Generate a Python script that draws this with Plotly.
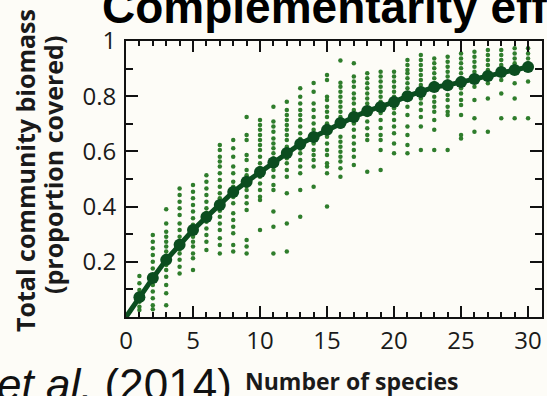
import plotly.graph_objects as go

# Number of species sown in each plot
species = list(range(0, 31))

# Mean proportion of ground covered at each species richness
mean_cover = [0.0, 0.072, 0.141, 0.207, 0.262, 0.315, 0.362, 0.406, 0.453, 0.490,
              0.525, 0.560, 0.594, 0.627, 0.652, 0.678, 0.703, 0.725, 0.746, 0.761,
              0.779, 0.800, 0.815, 0.833, 0.840, 0.851, 0.862, 0.873, 0.888, 0.895,
              0.906]

# Individual plot values, one list per species richness (1..30)
plot_cover = [
    [0.149, 0.122, 0.098, 0.072, 0.055, 0.037, 0.025],
    [0.297, 0.273, 0.249, 0.225, 0.200, 0.176, 0.152, 0.141, 0.116, 0.092, 0.068, 0.043, 0.028],
    [0.390, 0.339, 0.309, 0.291, 0.273, 0.255, 0.237, 0.222, 0.207, 0.188, 0.170, 0.146, 0.116, 0.086, 0.043],
    [0.466, 0.442, 0.418, 0.394, 0.370, 0.339, 0.315, 0.291, 0.275, 0.262, 0.245, 0.230, 0.207, 0.182, 0.158],
    [0.478, 0.454, 0.430, 0.406, 0.382, 0.358, 0.334, 0.315, 0.291, 0.273, 0.255, 0.230, 0.213, 0.170],
    [0.514, 0.490, 0.466, 0.442, 0.418, 0.394, 0.378, 0.362, 0.345, 0.321, 0.297, 0.273, 0.243],
    [0.623, 0.605, 0.581, 0.563, 0.545, 0.521, 0.496, 0.472, 0.448, 0.430, 0.406, 0.385, 0.363, 0.339,
     0.315, 0.285, 0.261, 0.230],
    [0.641, 0.611, 0.581, 0.545, 0.521, 0.490, 0.472, 0.453, 0.435, 0.412, 0.376, 0.351, 0.327, 0.303,
     0.261, 0.237],
    [0.725, 0.659, 0.641, 0.587, 0.569, 0.533, 0.514, 0.490, 0.475, 0.460, 0.436, 0.412, 0.388, 0.279,
     0.255, 0.230],
    [0.714, 0.696, 0.678, 0.659, 0.641, 0.623, 0.605, 0.581, 0.557, 0.540, 0.525, 0.508, 0.484, 0.460,
     0.436, 0.424, 0.315],
    [0.762, 0.708, 0.690, 0.671, 0.647, 0.629, 0.611, 0.593, 0.575, 0.560, 0.545, 0.533, 0.508, 0.478,
     0.460, 0.382, 0.327, 0.230],
    [0.780, 0.750, 0.732, 0.714, 0.696, 0.678, 0.659, 0.641, 0.617, 0.594, 0.575, 0.557, 0.533, 0.508,
     0.448, 0.339, 0.237],
    [0.829, 0.798, 0.774, 0.750, 0.732, 0.714, 0.690, 0.666, 0.645, 0.627, 0.610, 0.593, 0.569, 0.545,
     0.521, 0.460, 0.363],
    [0.848, 0.816, 0.774, 0.750, 0.725, 0.701, 0.678, 0.652, 0.629, 0.605, 0.587, 0.569, 0.545, 0.472],
    [0.877, 0.859, 0.798, 0.786, 0.762, 0.744, 0.725, 0.701, 0.678, 0.653, 0.629, 0.605, 0.587, 0.557,
     0.545, 0.521, 0.400],
    [0.929, 0.849, 0.834, 0.816, 0.798, 0.780, 0.762, 0.744, 0.725, 0.703, 0.690, 0.653, 0.635, 0.617,
     0.599, 0.581, 0.563, 0.539, 0.508],
    [0.919, 0.871, 0.853, 0.834, 0.810, 0.792, 0.774, 0.750, 0.725, 0.701, 0.678, 0.653, 0.629, 0.605,
     0.581, 0.551],
    [0.883, 0.865, 0.847, 0.829, 0.810, 0.792, 0.774, 0.756, 0.746, 0.732, 0.708, 0.684, 0.659, 0.641, 0.526],
    [0.889, 0.871, 0.853, 0.834, 0.816, 0.798, 0.780, 0.761, 0.739, 0.714, 0.685, 0.659, 0.641, 0.605, 0.533],
    [0.889, 0.871, 0.853, 0.834, 0.816, 0.798, 0.779, 0.756, 0.738, 0.714, 0.690, 0.666, 0.629, 0.593],
    [0.931, 0.913, 0.895, 0.883, 0.865, 0.847, 0.829, 0.810, 0.800, 0.786, 0.762, 0.732, 0.690, 0.659,
     0.623, 0.593],
    [0.949, 0.931, 0.913, 0.895, 0.877, 0.859, 0.841, 0.815, 0.792, 0.774, 0.750, 0.725, 0.690, 0.605],
    [0.937, 0.919, 0.901, 0.883, 0.865, 0.847, 0.833, 0.798, 0.780, 0.762, 0.744, 0.714, 0.678, 0.605],
    [0.943, 0.925, 0.907, 0.889, 0.871, 0.853, 0.840, 0.804, 0.786, 0.762, 0.744, 0.732, 0.605],
    [0.955, 0.937, 0.919, 0.901, 0.883, 0.865, 0.851, 0.829, 0.810, 0.786, 0.768, 0.732, 0.659, 0.647],
    [0.961, 0.943, 0.925, 0.907, 0.889, 0.862, 0.834, 0.786, 0.720, 0.671],
    [0.967, 0.949, 0.931, 0.913, 0.895, 0.873, 0.847, 0.792, 0.671],
    [0.967, 0.949, 0.931, 0.913, 0.888, 0.859, 0.810, 0.720],
    [0.974, 0.955, 0.937, 0.919, 0.895, 0.847, 0.792, 0.720],
    [0.974, 0.955, 0.937, 0.919, 0.906, 0.853, 0.720],
]

x_ticks = [0, 5, 10, 15, 20, 25, 30]
y_ticks = [0.2, 0.4, 0.6, 0.8, 1.0]
y_tick_text = ["0.2", "0.4", "0.6", "0.8", "1"]

BG = "#fdfcf7"
DOT_GREEN = "#2f7d2c"
LINE_GREEN = "#0b4d1f"

# flatten the per-richness columns into scatter coordinates
pts_x, pts_y = [], []
for n, values in zip(species[1:], plot_cover):
    pts_x.extend([n] * len(values))
    pts_y.extend(values)

fig = go.Figure()
fig.add_trace(go.Scatter(
    x=pts_x, y=pts_y, mode="markers",
    marker=dict(size=4.5, color=DOT_GREEN, line=dict(width=0)),
    showlegend=False, hoverinfo="skip",
))
fig.add_trace(go.Scatter(
    x=species, y=mean_cover, mode="lines",
    line=dict(color=LINE_GREEN, width=5),
    showlegend=False, hoverinfo="skip",
))
fig.add_trace(go.Scatter(
    x=species[1:], y=mean_cover[1:], mode="markers",
    marker=dict(size=12, color=LINE_GREEN, line=dict(width=0)),
    showlegend=False, hoverinfo="skip",
))

L, R, T, B = 126, 5, 41, 79
W, H = 547, 396
pw, ph = W - L - R, H - T - B


def px_x(p):
    return (p - L) / pw


def px_y(p):
    return (H - B - p) / ph


tick_font = dict(family="Open Sans, sans-serif", size=24, color="#1a1a1a")

fig.update_layout(
    width=W, height=H,
    margin=dict(l=L, r=R, t=T, b=B, autoexpand=False),
    paper_bgcolor=BG, plot_bgcolor=BG,
    showlegend=False,
    xaxis=dict(
        range=[0, 31.04], tickmode="array", tickvals=x_ticks,
        ticks="inside", ticklen=11, tickwidth=2, tickcolor="#111",
        minor=dict(ticks="inside", ticklen=5, tickwidth=1.6, tickcolor="#111",
                   tick0=0, dtick=1, showgrid=False),
        showline=True, linewidth=2, linecolor="#111", mirror="ticks",
        showgrid=False, zeroline=False, tickfont=tick_font,
        ticklabelstandoff=1,
    ),
    yaxis=dict(
        range=[0, 1.0], tickmode="array", tickvals=y_ticks, ticktext=y_tick_text,
        ticks="inside", ticklen=12, tickwidth=2, tickcolor="#111",
        minor=dict(ticks="inside", ticklen=7, tickwidth=1.6, tickcolor="#111",
                   tick0=0, dtick=0.1, showgrid=False),
        showline=True, linewidth=2, linecolor="#111", mirror="ticks",
        showgrid=False, zeroline=False, tickfont=tick_font,
        ticklabelstandoff=3,
    ),
    annotations=[
        dict(text="<b>Total community biomass</b>", textangle=-90,
             xref="paper", yref="paper", x=px_x(25), y=px_y(171),
             xanchor="center", yanchor="middle", showarrow=False,
             font=dict(family="Open Sans, sans-serif", size=25, color="#1a1a1a")),
        dict(text="<b>(proportion covered)</b>", textangle=-90,
             xref="paper", yref="paper", x=px_x(53), y=px_y(165),
             xanchor="center", yanchor="middle", showarrow=False,
             font=dict(family="Open Sans, sans-serif", size=25, color="#1a1a1a")),
        dict(text="<b>Number of species</b>",
             xref="paper", yref="paper", x=px_x(352), y=px_y(381),
             xanchor="center", yanchor="middle", showarrow=False,
             font=dict(family="Open Sans, sans-serif", size=23, color="#1a1a1a")),
        dict(text="<i>et al.</i> (2014)",
             xref="paper", yref="paper", x=px_x(234), y=px_y(384),
             xanchor="right", yanchor="middle", showarrow=False,
             font=dict(family="Liberation Sans, Arial, sans-serif", size=44, color="#111")),
        dict(text="<b>Complementarity eff</b>",
             xref="paper", yref="paper", x=px_x(100), y=px_y(7),
             xanchor="left", yanchor="middle", showarrow=False,
             font=dict(family="Liberation Sans, Arial, sans-serif", size=46, color="#000")),
    ],
)

fig.write_html("out.html")
